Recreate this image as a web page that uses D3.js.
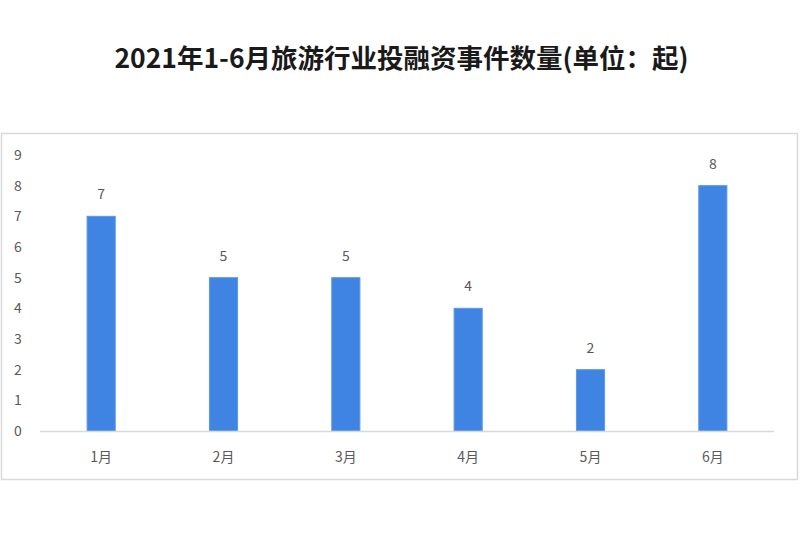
<!DOCTYPE html>
<html>
<head>
<meta charset="utf-8">
<script src="https://cdn.jsdelivr.net/npm/d3@7"></script>
<style>
  body { margin: 0; background: #fff; }
  svg { display: block; font-family: "Noto Sans CJK SC", "Noto Sans", sans-serif; }
</style>
</head>
<body>
<div id="chart"></div>
<script>
// 数据
var months = ["1月", "2月", "3月", "4月", "5月", "6月"];
var counts = [7, 5, 5, 4, 2, 8];
var yTicks = [0, 1, 2, 3, 4, 5, 6, 7, 8, 9];
var title = "2021年1-6月旅游行业投融资事件数量(单位：起)";

var W = 800, H = 533;
var svg = d3.select("#chart").append("svg")
    .attr("width", W)
    .attr("height", H);

svg.append("rect").attr("width", W).attr("height", H).attr("fill", "#fff");

// 标题
svg.append("text")
    .attr("x", 401.5)
    .attr("y", 68)
    .attr("text-anchor", "middle")
    .style("font-size", "26.5px")
    .style("font-weight", "bold")
    .style("fill", "#1a1a1a")
    .text(title);

// 外框
svg.append("rect")
    .attr("x", 1.5)
    .attr("y", 133.5)
    .attr("width", 796)
    .attr("height", 346)
    .attr("fill", "none")
    .attr("stroke", "#d9d9d9")
    .attr("stroke-width", 1.5);

var x = d3.scaleBand().domain(months).range([40, 774]).paddingInner(0.77).paddingOuter(0.385);
var y = d3.scaleLinear().domain([0, 9]).range([431, 155]);

// y轴刻度
svg.append("g").selectAll("text")
    .data(yTicks)
    .enter().append("text")
    .attr("x", 18)
    .attr("y", function (d) { return y(d) + 5; })
    .attr("text-anchor", "middle")
    .style("font-size", "14px")
    .style("fill", "#595959")
    .text(function (d) { return d; });

// 柱子
svg.append("g").selectAll("rect")
    .data(counts)
    .enter().append("rect")
    .attr("x", function (d, i) { return x(months[i]); })
    .attr("y", function (d) { return y(d); })
    .attr("width", x.bandwidth())
    .attr("height", function (d) { return y(0) - y(d); })
    .attr("fill", "#3f84e2")
    .attr("stroke", "#5c98e6")
    .attr("stroke-width", 1);

// 数值标签
svg.append("g").selectAll("text")
    .data(counts)
    .enter().append("text")
    .attr("x", function (d, i) { return x(months[i]) + x.bandwidth() / 2; })
    .attr("y", function (d) { return y(d) - 17; })
    .attr("text-anchor", "middle")
    .style("font-size", "14px")
    .style("fill", "#595959")
    .text(function (d) { return d; });

// x轴
svg.append("line")
    .attr("x1", 40).attr("x2", 774)
    .attr("y1", 431.5).attr("y2", 431.5)
    .attr("stroke", "#d9d9d9")
    .attr("stroke-width", 1.5);

svg.append("g").selectAll("text")
    .data(months)
    .enter().append("text")
    .attr("x", function (d) { return x(d) + x.bandwidth() / 2; })
    .attr("y", 462)
    .attr("text-anchor", "middle")
    .style("font-size", "14px")
    .style("fill", "#595959")
    .text(function (d) { return d; });
</script>
</body>
</html>
